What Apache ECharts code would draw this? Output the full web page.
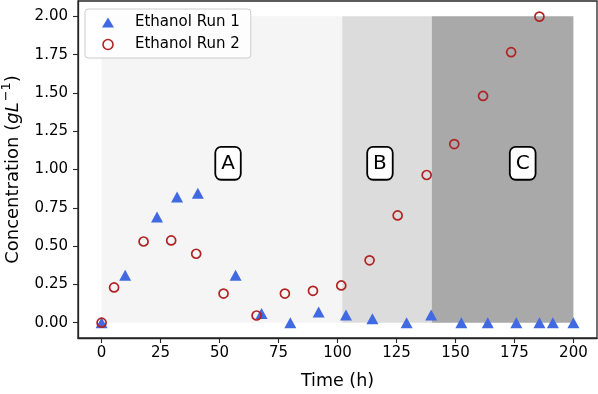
<!DOCTYPE html>
<html>
<head>
<meta charset="utf-8">
<script src="https://cdn.jsdelivr.net/npm/echarts@6/dist/echarts.min.js"></script>
<style>
html,body{margin:0;padding:0;background:#fff;}
#chart{width:598px;height:394px;}
</style>
</head>
<body>
<div id="chart"></div>
<script>
// ---- data ----
var run1Time = [0, 10, 23.5, 32, 40.8, 56.8, 67.8, 80, 92, 103.6, 114.8, 129.3, 139.7, 152.5, 163.7, 175.8, 185.6, 191.3, 200];
var run1Conc = [0, 0.31, 0.69, 0.82, 0.845, 0.31, 0.06, 0.0, 0.07, 0.05, 0.026, 0.0, 0.05, 0.0, 0.0, 0.0, 0.0, 0.0, 0.0];
var run2Time = [0, 5.3, 17.8, 29.5, 40.1, 51.7, 65.7, 77.7, 89.6, 101.6, 113.6, 125.5, 137.8, 149.5, 161.7, 173.6, 185.6];
var run2Conc = [0, 0.23, 0.53, 0.537, 0.45, 0.19, 0.047, 0.19, 0.208, 0.243, 0.407, 0.70, 0.964, 1.166, 1.48, 1.766, 1.998];
var seriesNames = ['Ethanol Run 1', 'Ethanol Run 2'];
var regionStart = [0, 102, 140];
var regionEnd = [102, 140, 200];
var regionBottom = 0;
var regionTop = 2.0;
var regionColors = ['#f5f5f5', '#dcdcdc', '#a9a9a9'];
var regionLabels = ['A', 'B', 'C'];
var labelX = [53.6, 118, 178.5];
var labelY = [1.04, 1.04, 1.04];
var xTicks = [0, 25, 50, 75, 100, 125, 150, 175, 200];
var yTicks = [0, 0.25, 0.5, 0.75, 1.0, 1.25, 1.5, 1.75, 2.0];
var xRange = [-10, 210];
var yRange = [-0.1, 2.1];

function zip(a, b) { return a.map(function (v, i) { return [v, b[i]]; }); }

var FONT = 'DejaVu Sans';
var AXC = '#262626';

var areas = regionStart.map(function (s, i) {
  return [{ xAxis: s, yAxis: regionBottom, itemStyle: { color: regionColors[i], opacity: 1 } },
          { xAxis: regionEnd[i], yAxis: regionTop }];
});

var chart = echarts.init(document.getElementById('chart'), null, { renderer: 'canvas' });
chart.setOption({
  animation: false,
  backgroundColor: '#ffffff',
  textStyle: { fontFamily: FONT },
  grid: { left: 78, right: 1, top: 1, bottom: 56, containLabel: false, outerBoundsMode: 'none',
          show: true, borderColor: AXC, borderWidth: 1.3, backgroundColor: 'transparent' },
  legend: {
    data: [
      { name: seriesNames[0], icon: 'triangle', itemStyle: { color: '#4169e1' } },
      { name: seriesNames[1], icon: 'circle', itemStyle: { color: 'transparent', borderColor: '#b22222', borderWidth: 1.6 } }
    ],
    orient: 'vertical',
    left: 85, top: 9,
    itemWidth: 12, itemHeight: 10,
    itemGap: 5,
    padding: [5, 11, 5, 17],
    backgroundColor: 'rgba(255,255,255,0.8)',
    borderColor: '#cccccc', borderWidth: 1, borderRadius: 3,
    textStyle: { fontFamily: FONT, fontSize: 15, color: '#000', lineHeight: 17, padding: [0, 0, 0, 16] },
    selectedMode: false
  },
  xAxis: {
    type: 'value', min: xRange[0], max: xRange[1],
    name: 'Time (h)', nameLocation: 'middle', nameGap: 34,
    nameTextStyle: { fontFamily: FONT, fontSize: 17.5, color: '#000' },
    axisLine: { onZero: false, lineStyle: { color: AXC, width: 1.3 } },
    axisTick: { show: true, length: 5, lineStyle: { color: AXC, width: 1.1 }, customValues: xTicks },
    axisLabel: { fontFamily: FONT, fontSize: 15, color: '#000', margin: 8, customValues: xTicks, formatter: function (v) { return String(v); } },
    splitLine: { show: false }
  },
  yAxis: {
    type: 'value', min: yRange[0], max: yRange[1],
    name: '{a|Concentration (}{b|gL}{c|\u22121}{a|)}', nameLocation: 'middle', nameGap: 56, nameRotate: 90,
    nameTextStyle: {
      fontFamily: FONT, fontSize: 18, color: '#000',
      rich: {
        a: { fontFamily: FONT, fontSize: 18, color: '#000', lineHeight: 22, verticalAlign: 'bottom' },
        b: { fontFamily: FONT, fontSize: 18, color: '#000', fontStyle: 'italic', lineHeight: 22, verticalAlign: 'bottom' },
        c: { fontFamily: FONT, fontSize: 13, color: '#000', lineHeight: 22, verticalAlign: 'top', padding: [0, 0, 0, 1] }
      }
    },
    axisLine: { onZero: false, lineStyle: { color: AXC, width: 1.3 } },
    axisTick: { show: true, length: 5, lineStyle: { color: AXC, width: 1.1 }, customValues: yTicks },
    axisLabel: { fontFamily: FONT, fontSize: 15, color: '#000', margin: 10, customValues: yTicks, formatter: function (v) { return v.toFixed(2); } },
    splitLine: { show: false }
  },
  series: [
    {
      name: 'regions', type: 'scatter', data: [], z: 1, silent: true,
      markArea: { silent: true, data: areas }
    },
    {
      name: seriesNames[0], type: 'scatter', z: 3,
      symbol: 'triangle', symbolSize: [12, 11],
      itemStyle: { color: '#4169e1', opacity: 1 },
      data: zip(run1Time, run1Conc)
    },
    {
      name: seriesNames[1], type: 'scatter', z: 4,
      symbol: 'circle', symbolSize: 9,
      itemStyle: { color: 'transparent', borderColor: '#b22222', borderWidth: 1.7, opacity: 1 },
      data: zip(run2Time, run2Conc)
    },
    {
      name: 'labels', type: 'scatter', z: 5, silent: true,
      symbol: 'circle', symbolSize: 1, itemStyle: { color: 'rgba(0,0,0,0)', opacity: 1 },
      data: labelX.map(function (x, i) { return [x, labelY[i], regionLabels[i]]; }),
      label: {
        show: true, position: 'inside', opacity: 1,
        formatter: function (p) { return p.value[2]; },
        fontFamily: FONT, fontSize: 20, color: '#000000', lineHeight: 21,
        textBorderWidth: 0,
        backgroundColor: '#ffffff', borderColor: '#000000', borderWidth: 1.8, borderRadius: 5,
        padding: [5, 5, 5, 5]
      }
    }
  ]
});
</script>
</body>
</html>
